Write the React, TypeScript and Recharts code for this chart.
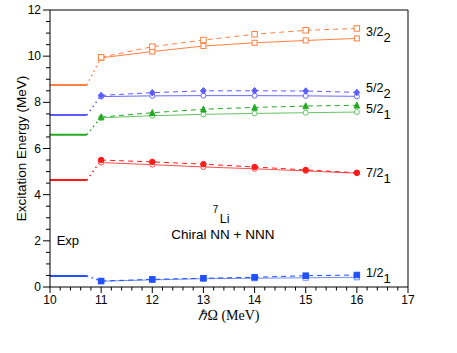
import React from "react";
import {
  ComposedChart,
  Line,
  Scatter,
  XAxis,
  YAxis,
  ReferenceLine,
} from "recharts";

// hbar-omega grid of the calculations (MeV)
const hw = [11, 12, 13, 14, 15, 16];

// experimental levels (MeV)
const expLevels = [8.75, 7.45, 6.6, 4.63, 0.48];
const expStart = 10;
const expEnd = 10.72;

// calculated excitation energies, solid and dashed curves (MeV)
const e32b = [9.93, 10.2, 10.44, 10.58, 10.68, 10.77];
const e32bDash = [9.95, 10.41, 10.7, 10.95, 11.12, 11.2];
const e52b = [8.25, 8.28, 8.29, 8.29, 8.28, 8.26];
const e52bDash = [8.3, 8.42, 8.5, 8.5, 8.49, 8.43];
const e52a = [7.33, 7.42, 7.48, 7.52, 7.55, 7.58];
const e52aDash = [7.36, 7.55, 7.7, 7.78, 7.84, 7.87];
const e72a = [5.39, 5.3, 5.2, 5.12, 5.03, 4.93];
const e72aDash = [5.5, 5.42, 5.32, 5.2, 5.07, 4.95];
const e12a = [0.25, 0.31, 0.36, 0.38, 0.4, 0.42];
const e12aDash = [0.26, 0.33, 0.38, 0.42, 0.49, 0.52];

const stateNames = ["3/2", "5/2", "5/2", "7/2", "1/2"];
const stateSubs = ["2", "2", "1", "1", "1"];
const stateLabelY = [10.87, 8.46, 7.53, 4.78, 0.45];
const stateLabelX = 16.18;

const xTicks = Array.from({ length: 36 }, (_, i) => 10 + i * 0.2);
const yTicks = Array.from({ length: 25 }, (_, i) => i * 0.5);

const FONT = "'Liberation Sans', Arial, Helvetica, sans-serif";

type Shape = "square" | "circle" | "triangle" | "diamond";

const series = [
  { solid: e32b, dash: e32bDash, color: "#ff8040", solidColor: "#ff8040", solidShape: "square" as Shape, solidFill: false, dashShape: "square" as Shape, dashFill: false },
  { solid: e52b, dash: e52bDash, color: "#5a5aff", solidColor: "#6a6aff", solidShape: "circle" as Shape, solidFill: false, dashShape: "diamond" as Shape, dashFill: true },
  { solid: e52a, dash: e52aDash, color: "#22aa22", solidColor: "#66c466", solidShape: "circle" as Shape, solidFill: false, dashShape: "triangle" as Shape, dashFill: true },
  { solid: e72a, dash: e72aDash, color: "#ff1a1a", solidColor: "#ff5050", solidShape: "circle" as Shape, solidFill: false, dashShape: "circle" as Shape, dashFill: true },
  { solid: e12a, dash: e12aDash, color: "#2050ff", solidColor: "#7090ff", solidShape: "square" as Shape, solidFill: false, dashShape: "square" as Shape, dashFill: true },
];

const toPts = (ys: number[]) => ys.map((y, i) => ({ x: hw[i], y }));

function marker(shape: Shape, color: string, filled: boolean, size: number) {
  return (p: any) => {
    const { cx, cy, index } = p;
    const key = `m-${index}`;
    if (cx == null || cy == null) return <g key={key} />;
    const fill = filled ? color : "#fff";
    const h = size / 2;
    if (shape === "square")
      return <rect key={key} x={cx - h} y={cy - h} width={size} height={size} fill={fill} stroke={color} strokeWidth={1} />;
    if (shape === "circle")
      return <circle key={key} cx={cx} cy={cy} r={h} fill={fill} stroke={color} strokeWidth={1} />;
    if (shape === "triangle")
      return <polygon key={key} points={`${cx},${cy - h - 0.5} ${cx - h},${cy + h} ${cx + h},${cy + h}`} fill={fill} stroke={color} strokeWidth={1} />;
    return <polygon key={key} points={`${cx},${cy - h - 0.5} ${cx + h},${cy} ${cx},${cy + h + 0.5} ${cx - h},${cy}`} fill={fill} stroke={color} strokeWidth={1} />;
  };
}

const XTick = (props: any) => {
  const { x, y, payload } = props;
  const v = payload.value;
  const major = Math.abs(v - Math.round(v)) < 1e-6;
  return (
    <g>
      <line x1={x} x2={x} y1={y} y2={y + (major ? 6 : 3.5)} stroke="#000" strokeWidth={1} />
      {major && (
        <text x={x} y={y + 17} textAnchor="middle" fontSize={12} fontFamily={FONT} fill="#000">
          {Math.round(v)}
        </text>
      )}
    </g>
  );
};

const YTick = (props: any) => {
  const { x, y, payload } = props;
  const v = payload.value;
  const major = Math.abs(v / 2 - Math.round(v / 2)) < 1e-6;
  return (
    <g>
      <line x1={x} x2={x - (major ? 7 : 4)} y1={y} y2={y} stroke="#000" strokeWidth={1} />
      {major && (
        <text x={x - 9} y={y + 4} textAnchor="end" fontSize={12} fontFamily={FONT} fill="#000">
          {Math.round(v)}
        </text>
      )}
    </g>
  );
};

const labelPts = stateNames.map((name, i) => ({ x: stateLabelX, y: stateLabelY[i], name, sub: stateSubs[i] }));

const StateLabel = (p: any) => {
  const { cx, cy, payload } = p;
  return (
    <text x={cx} y={cy} fontSize={12.5} fontFamily={FONT} fill="#000">
      {payload.name}
      <tspan dy={6} fontSize={13}>{payload.sub}</tspan>
    </text>
  );
};

const notePts = [
  { x: 10.13, y: 1.82, kind: "exp" },
  { x: 13.18, y: 2.76, kind: "nucleus" },
  { x: 13.38, y: 2.07, kind: "interaction" },
];

const Note = (p: any) => {
  const { cx, cy, payload } = p;
  if (payload.kind === "exp")
    return <text x={cx} y={cy} fontSize={13} fontFamily={FONT} fill="#000">Exp</text>;
  if (payload.kind === "nucleus")
    return (
      <text x={cx} y={cy} fontSize={12.5} fontFamily={FONT} fill="#000">
        <tspan dy={-10} fontSize={10}>7</tspan>
        <tspan dy={10} dx={1.5}>Li</tspan>
      </text>
    );
  return (
    <text x={cx} y={cy} fontSize={13.5} fontFamily={FONT} fill="#000" textAnchor="middle">
      Chiral NN + NNN
    </text>
  );
};

export default function App() {
  return (
    <div style={{ position: "absolute", left: 0, top: 0, background: "#fff" }}>
      <ComposedChart width={457} height={353} margin={{ top: 10, right: 49, bottom: 36, left: 0 }}>
        <XAxis
          type="number"
          dataKey="x"
          domain={[10, 17]}
          ticks={xTicks}
          interval={0}
          tickSize={0}
          tickMargin={0}
          tickLine={false}
          tick={<XTick />}
          axisLine={{ stroke: "#000", strokeWidth: 1 }}
          height={30}
          allowDataOverflow
          label={{
            content: (lp: any) => {
              const vb = lp.viewBox;
              return (
                <text x={vb.x + vb.width / 2} y={320} textAnchor="middle" fontSize={14} fontFamily="'Liberation Serif', 'Times New Roman', serif" fill="#000">
                  <tspan fontStyle="italic">ℏ</tspan>Ω (MeV)
                </text>
              );
            },
          }}
        />
        <YAxis
          type="number"
          dataKey="y"
          domain={[0, 12]}
          ticks={yTicks}
          interval={0}
          tickSize={0}
          tickMargin={0}
          tickLine={false}
          tick={<YTick />}
          axisLine={{ stroke: "#000", strokeWidth: 1 }}
          width={50}
          allowDataOverflow
          label={{
            content: (lp: any) => {
              const vb = lp.viewBox;
              const cx = 21;
              const cy = vb.y + vb.height / 2;
              return (
                <text x={cx} y={cy} textAnchor="middle" dominantBaseline="central" fontSize={13.5} fontFamily={FONT} fill="#000" transform={`rotate(-90 ${cx} ${cy})`}>
                  Excitation Energy (MeV)
                </text>
              );
            },
          }}
        />
        <ReferenceLine y={12} stroke="#000" strokeWidth={1} />
        <ReferenceLine x={17} stroke="#000" strokeWidth={1} />

        {series.map((s, i) => (
          <Line
            key={`exp-${i}`}
            data={[{ x: expStart, y: expLevels[i] }, { x: expEnd, y: expLevels[i] }]}
            dataKey="y"
            stroke={s.color}
            strokeWidth={2}
            dot={false}
            isAnimationActive={false}
          />
        ))}
        {series.map((s, i) => (
          <Line
            key={`conn-${i}`}
            data={[{ x: expEnd, y: expLevels[i] }, { x: hw[0], y: s.dash[0] }]}
            dataKey="y"
            stroke={s.color}
            strokeWidth={1.5}
            strokeDasharray="1.5 3.5"
            dot={false}
            isAnimationActive={false}
          />
        ))}
        {series.map((s, i) => (
          <Line
            key={`solid-${i}`}
            data={toPts(s.solid)}
            dataKey="y"
            stroke={s.solidColor}
            strokeWidth={1}
            dot={marker(s.solidShape, s.solidColor, s.solidFill, 5)}
            isAnimationActive={false}
          />
        ))}
        {series.map((s, i) => (
          <Line
            key={`dash-${i}`}
            data={toPts(s.dash)}
            dataKey="y"
            stroke={s.color}
            strokeWidth={1}
            strokeDasharray="5 4"
            dot={marker(s.dashShape, s.color, s.dashFill, 5.5)}
            isAnimationActive={false}
          />
        ))}
        <Scatter data={labelPts} dataKey="y" shape={<StateLabel />} isAnimationActive={false} />
        <Scatter data={notePts} dataKey="y" shape={<Note />} isAnimationActive={false} />
      </ComposedChart>
    </div>
  );
}
